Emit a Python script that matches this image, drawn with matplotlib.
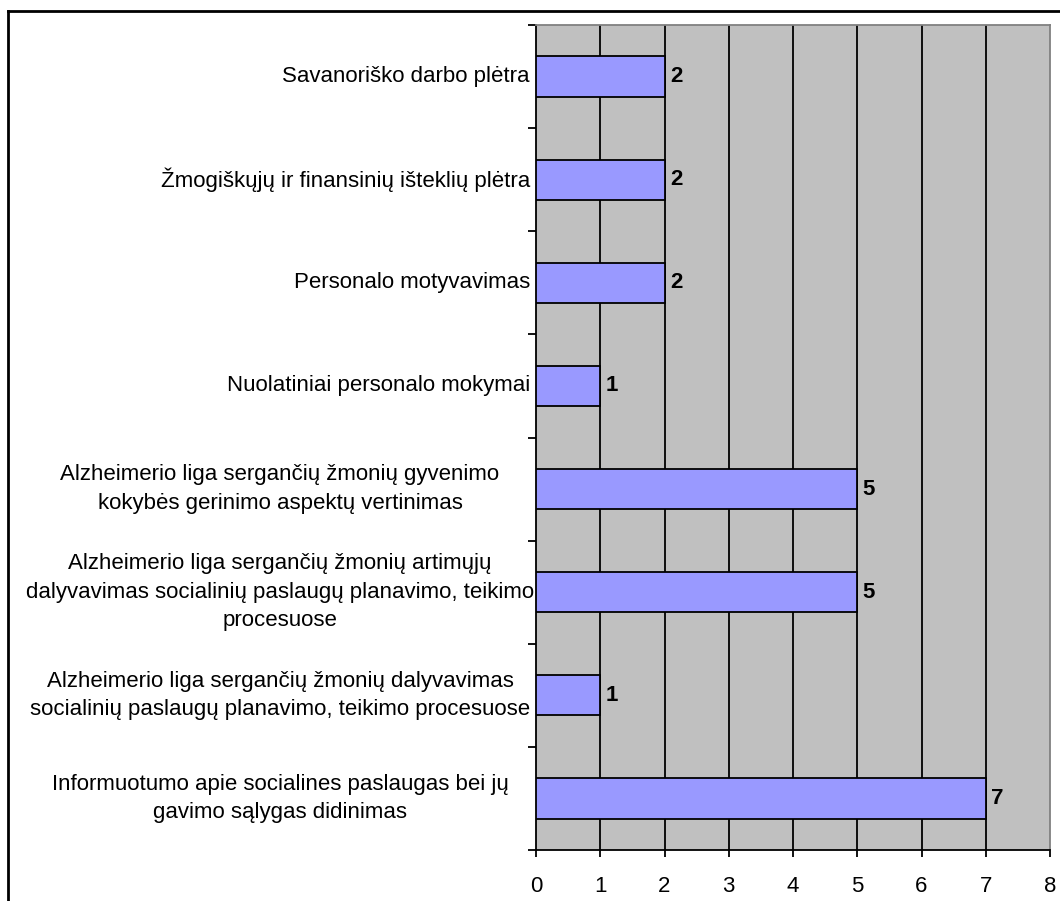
import matplotlib.pyplot as plt
from matplotlib.lines import Line2D
from matplotlib.transforms import blended_transform_factory
import numpy as np

plt.rcParams['font.family'] = ['Liberation Sans', 'DejaVu Sans']

# Kategorijos (iš viršaus į apačią) ir atsakymų skaičius
kategorijos = [
    "Savanoriško darbo plėtra",
    "Žmogiškųjų ir finansinių išteklių plėtra",
    "Personalo motyvavimas",
    "Nuolatiniai personalo mokymai",
    "Alzheimerio liga sergančių žmonių gyvenimo\nkokybės gerinimo aspektų vertinimas",
    "Alzheimerio liga sergančių žmonių artimųjų\ndalyvavimas socialinių paslaugų planavimo, teikimo\nprocesuose",
    "Alzheimerio liga sergančių žmonių dalyvavimas\nsocialinių paslaugų planavimo, teikimo procesuose",
    "Informuotumo apie socialines paslaugas bei jų\ngavimo sąlygas didinimas",
]
reiksmes = [2, 2, 2, 1, 5, 5, 1, 7]
x_ribos = (0, 8)

W, H = 1060, 901
FS = 16

fig = plt.figure(figsize=(W / 100, H / 100), dpi=100)
ax = fig.add_axes([536 / W, 51 / H, 514 / W, 825 / H])

y = np.arange(len(kategorijos))
ax.set_facecolor('#C0C0C0')
bars = ax.barh(y, reiksmes, height=0.39, color='#9999FF', edgecolor='black',
               linewidth=1.3, zorder=3)

ax.set_xlim(*x_ribos)
ax.set_ylim(len(kategorijos) - 0.5, -0.5)

# vertikalios tinklelio linijos
for v in range(1, x_ribos[1]):
    ax.axvline(v, color='black', linewidth=1.3, zorder=2)

ax.set_xticks(range(x_ribos[0], x_ribos[1] + 1))
ax.tick_params(axis='x', length=5, width=1.3, labelsize=FS, pad=14)

# kategorijų pavadinimai: vienos eilutės - lygiuoti dešinėje, kelių - centre
ax.set_yticks([])
ax.set_yticks(np.arange(-0.5, len(kategorijos)), minor=True)
ax.tick_params(axis='y', which='minor', length=6, width=1.3)
tr = blended_transform_factory(fig.transFigure, ax.transData)
for yi, k in zip(y, kategorijos):
    if '\n' in k:
        ax.text(280 / W, yi, k, transform=tr, ha='center', va='center',
                multialignment='center', fontsize=FS, linespacing=1.45)
    else:
        ax.text(530 / W, yi, k, transform=tr, ha='right', va='center',
                fontsize=FS)

for s in ['top', 'right']:
    ax.spines[s].set_color('#808080')
    ax.spines[s].set_linewidth(1.3)
for s in ['left', 'bottom']:
    ax.spines[s].set_color('black')
    ax.spines[s].set_linewidth(1.3)

for b, v in zip(bars, reiksmes):
    ax.annotate(str(v), (v, b.get_y() + b.get_height() / 2),
                xytext=(4, 0), textcoords='offset points',
                va='center', ha='left', fontsize=FS, fontweight='bold')

# rėmelis aplink diagramą
fig.add_artist(Line2D([8 / W, 1.0], [890 / H, 890 / H],
                      transform=fig.transFigure, color='black', linewidth=2))
fig.add_artist(Line2D([8 / W, 8 / W], [0.0, 890 / H],
                      transform=fig.transFigure, color='black', linewidth=2))

fig.savefig('out.png', dpi=100)
